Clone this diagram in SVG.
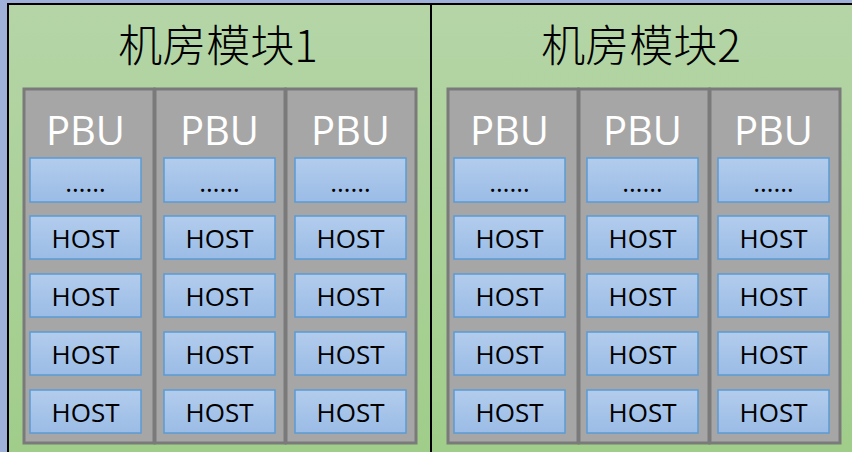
<svg xmlns="http://www.w3.org/2000/svg" width="852" height="452" viewBox="0 0 852 452">
<defs>
<linearGradient id="gg" x1="0" y1="0" x2="0" y2="1"><stop offset="0" stop-color="#b5d5a7"/><stop offset="1" stop-color="#a0cd8a"/></linearGradient>
<linearGradient id="bg" x1="0" y1="0" x2="0" y2="1"><stop offset="0" stop-color="#b2ccec"/><stop offset="1" stop-color="#9bbce6"/></linearGradient>
<style>
.mod{fill:url(#gg);stroke:#000;stroke-width:2}
.col{fill:#a6a6a6;stroke:#7a7a7a;stroke-width:3}
.box{fill:url(#bg);stroke:#5b9bd5;stroke-width:1.5}
.t{font-family:"Noto Sans CJK SC","Liberation Sans",sans-serif;font-size:44px;font-weight:300;fill:#000;text-anchor:middle}
.p{font-family:"Open Sans","Liberation Sans",sans-serif;font-size:40px;fill:#fff;text-anchor:middle}
.h{font-family:"Open Sans","Liberation Sans",sans-serif;font-size:26px;fill:#000;text-anchor:middle}
</style>
<g id="hostcol">
<rect class="box" x="-55.5" y="158" width="111" height="44"/><text class="h" x="0" y="192">……</text>
<rect class="box" x="-55.5" y="216" width="111" height="43"/><text class="h" x="0" y="248">HOST</text>
<rect class="box" x="-55.5" y="274" width="111" height="43"/><text class="h" x="0" y="306">HOST</text>
<rect class="box" x="-55.5" y="332" width="111" height="43"/><text class="h" x="0" y="364">HOST</text>
<rect class="box" x="-55.5" y="390" width="111" height="43"/><text class="h" x="0" y="422">HOST</text>
</g>
</defs>
<rect x="0" y="0" width="852" height="452" fill="#9fb0d9"/>
<g id="module1">
<rect class="mod" x="8" y="4" width="423" height="452"/>
<text class="t" x="218" y="62">机房模块1</text>
<g id="m1pbu1"><rect class="col" x="24" y="89" width="130" height="354"/><text class="p" x="85.5" y="145">PBU</text><use href="#hostcol" x="85.5"/></g>
<g id="m1pbu2"><rect class="col" x="155" y="89" width="130" height="354"/><text class="p" x="219.5" y="145">PBU</text><use href="#hostcol" x="219.5"/></g>
<g id="m1pbu3"><rect class="col" x="286" y="89" width="130" height="354"/><text class="p" x="350.5" y="145">PBU</text><use href="#hostcol" x="350.5"/></g>
</g>
<g id="module2">
<rect class="mod" x="431" y="4" width="430" height="452"/>
<text class="t" x="641" y="62">机房模块2</text>
<g id="m2pbu1"><rect class="col" x="448" y="89" width="130" height="354"/><text class="p" x="509.5" y="145">PBU</text><use href="#hostcol" x="509.5"/></g>
<g id="m2pbu2"><rect class="col" x="579" y="89" width="130" height="354"/><text class="p" x="642.5" y="145">PBU</text><use href="#hostcol" x="642.5"/></g>
<g id="m2pbu3"><rect class="col" x="710" y="89" width="130" height="354"/><text class="p" x="773.5" y="145">PBU</text><use href="#hostcol" x="773.5"/></g>
</g>
<g id="connectors"/>
</svg>
